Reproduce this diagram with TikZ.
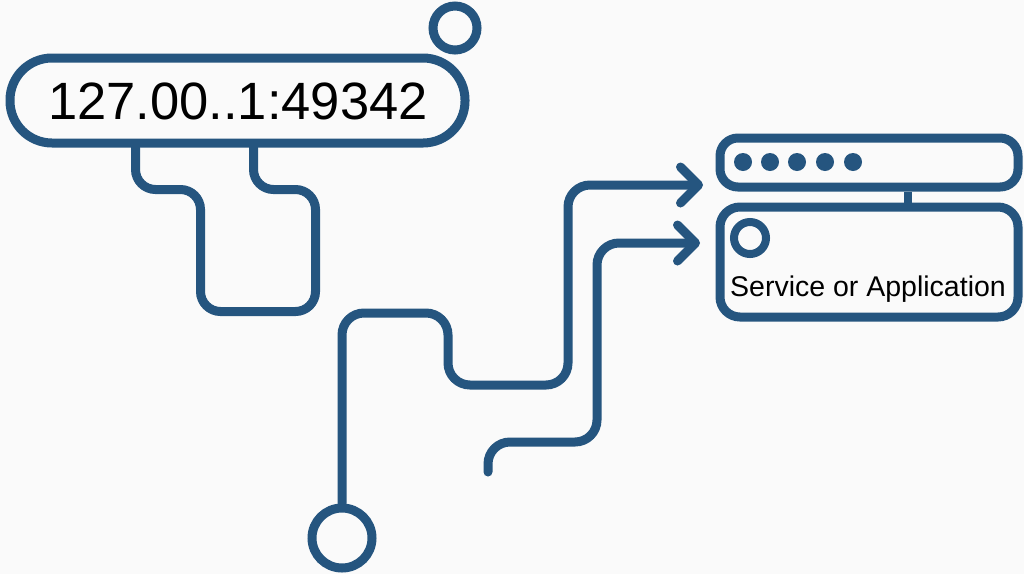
\documentclass[tikz,border=0pt]{standalone}
\usepackage{fontspec}
\setmainfont{Liberation Sans}
\usetikzlibrary{arrows.meta}

\definecolor{navy}{HTML}{25557F}
\definecolor{paper}{RGB}{250,250,250}

\tikzset{
  wire/.style={navy, line width=9pt, line cap=round, rounded corners=22pt},
  boxed/.style={draw=navy, line width=9pt, inner sep=0pt},
  ring/.style={circle, draw=navy, line width=9pt, inner sep=0pt},
  tipin/.style={-{Straight Barb[length=18pt, width=36pt, line cap=round, line join=round]}}
}

\begin{document}
\begin{tikzpicture}[x=1pt, y=-1pt]

    % 0. background and frame
    \fill[paper] (0,0) rectangle (1024,574);
    \useasboundingbox (0,0) rectangle (1024,574);

    % 1. address pill
    \node[boxed, rounded corners=42pt, minimum width=455pt, minimum height=85pt] (pill) at (237.5,100.5) {};
    \node (addr) at (238,101) {\fontsize{52.5}{60}\selectfont 127.00..1:49342};
    \node[ring, minimum size=44pt] (knob) at (455,28) {};

    % loop under the pill
    \draw[wire, rounded corners=20pt] ([xshift=130pt]pill.south west) -- ++(0,42) -- ++(65,0)
      -- ++(0,122) -- ++(115,0) -- ++(0,-122) -- ++(-62,0) -- ([xshift=248pt]pill.south west);

    % 2. server / application
    \node[boxed, rounded corners=18pt, minimum width=298pt, minimum height=49pt] (bar) at (869,162.5) {};
    \node[boxed, rounded corners=20pt, minimum width=298pt, minimum height=110pt] (app) at (869,262) {};
    \draw[navy, line width=8pt] ([xshift=39pt]bar.south) -- ([xshift=39pt]app.north);
    \foreach \x in {743,770,797,825,853}
      \fill[navy] (\x,162) circle (9);
    \node[ring, line width=8pt, minimum size=32pt] (led) at (750,238) {};
    \node[anchor=base west, inner sep=0pt] (label) at (730,296) {\fontsize{28.5}{32}\selectfont Service or Application};

    % 3. routes into the server
    \node[ring, minimum size=60pt] (src) at (342,538) {};
    \coordinate (in1) at (703,185);
    \coordinate (in2) at (700,243);
    \coordinate (tail) at (488,472);

    \draw[wire, tipin] (src.north) -- (342,313) -- (448,313) -- (448,385)
      -- (568,385) -- (568,185) -- (in1);
    \draw[wire, tipin] (tail) -- (488,442) -- (597,442) -- (597,243) -- (in2);

\end{tikzpicture}
\end{document}
